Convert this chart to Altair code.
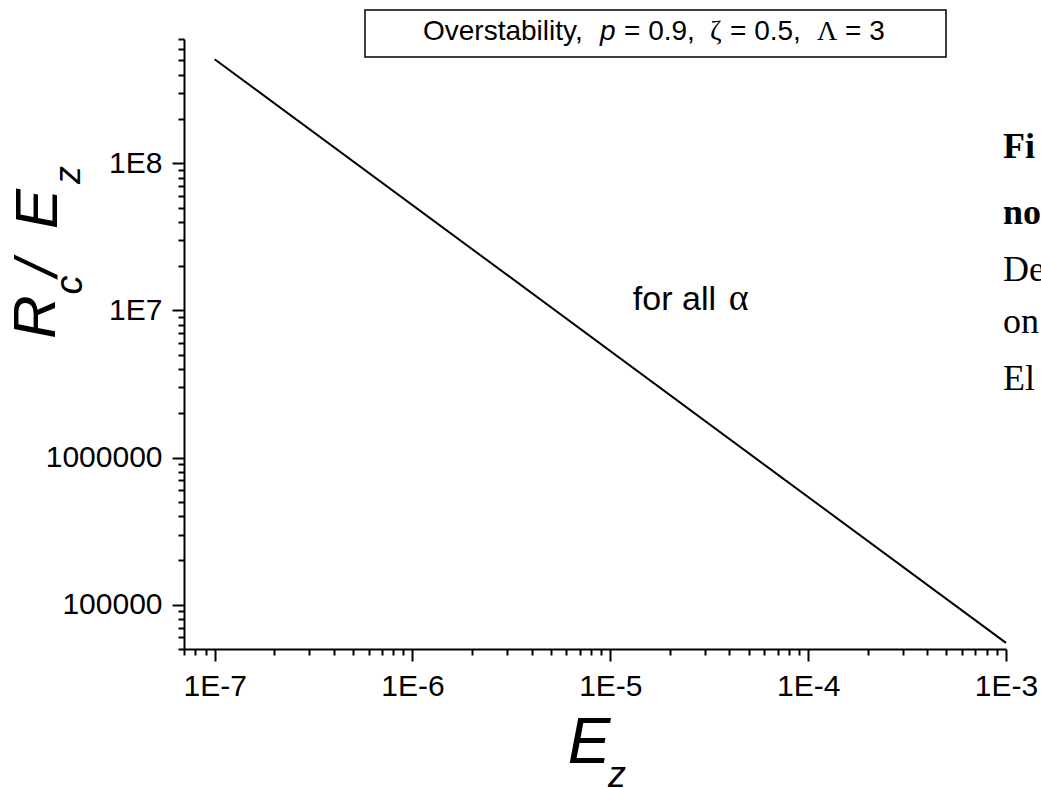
import altair as alt
import pandas as pd

# Critical Rayleigh number (scaled by E_z) against the vertical Ekman number
E_z = [1e-7, 1e-3]
Rc_over_Ez = [5.1e8, 5.5e4]

# Axis ranges and decade labels
x_domain = [7e-8, 1e-3]
y_domain = [5e4, 7e8]
x_major = [1e-7, 1e-6, 1e-5, 1e-4, 1e-3]
x_labels = ["1E-7", "1E-6", "1E-5", "1E-4", "1E-3"]
y_major = [1e5, 1e6, 1e7, 1e8]
y_labels = ["100000", "1000000", "1E7", "1E8"]

# Annotation text
note_text = "for all "
note_greek = "α"
note_at = [1.3e-5, 1e7]
box_parts = ["Overstability,", "p", "= 0.9,", "ζ", "= 0.5,", "Λ", "= 3"]
caption_lines = ["Fi", "no", "De", "on", "El"]


def log_ticks(lo, hi, e_lo, e_hi):
    vals = []
    for e in range(e_lo, e_hi + 1):
        for m in range(1, 10):
            v = float(f"{m}e{e}")
            if lo * 0.999 <= v <= hi * 1.001:
                vals.append(v)
    return vals


def label_expr(values, labels):
    expr = "''"
    for v, lab in reversed(list(zip(values, labels))):
        expr = f"(abs(datum.value - {v!r}) < {v!r} * 1e-6 ? '{lab}' : {expr})"
    return expr


def major_test(values):
    return " || ".join(f"abs(datum.value - {v!r}) < {v!r} * 1e-6" for v in values)


x_ticks = log_ticks(x_domain[0], x_domain[1], -8, -3)
y_ticks = log_ticks(y_domain[0], y_domain[1], 4, 8)

FONT = "Liberation Sans"
SERIF = "Liberation Serif"


def axis(values, majors, labels, pad):
    return alt.Axis(
        values=values,
        labelExpr=label_expr(majors, labels),
        tickSize={"condition": {"test": major_test(majors), "value": 12}, "value": 6},
        tickWidth=2,
        tickColor="black",
        domainWidth=2,
        domainColor="black",
        labelFont=FONT,
        labelFontSize=30,
        labelColor="black",
        labelPadding=pad,
        labelOverlap=False,
        labelFlush=False,
        grid=False,
        title=None,
    )


df = pd.DataFrame({"Ez": E_z, "R": Rc_over_Ez})

line = alt.Chart(df).mark_line(color="black", strokeWidth=2).encode(
    x=alt.X("Ez:Q", scale=alt.Scale(type="log", domain=x_domain, nice=False),
            axis=axis(x_ticks, x_major, x_labels, 10)),
    y=alt.Y("R:Q", scale=alt.Scale(type="log", domain=y_domain, nice=False),
            axis=axis(y_ticks, y_major, y_labels, 10)),
)

note_df = pd.DataFrame({"Ez": [note_at[0]], "R": [note_at[1]]})
note = alt.Chart(note_df).mark_text(
    text=note_text, align="left", baseline="alphabetic", font=FONT, fontSize=34, color="black"
).encode(x="Ez:Q", y="R:Q")
note_alpha = alt.Chart(note_df).mark_text(
    text=note_greek, align="left", baseline="alphabetic", font=SERIF, fontSize=38,
    color="black", dx=96
).encode(x="Ez:Q", y="R:Q")

one_row = alt.Data(values=[{"k": 0}])


def label(text, x, y, size, angle=0, align="left", italic=False, bold=False, font=FONT):
    kw = dict(text=text, align=align, baseline="alphabetic", font=font, fontSize=size,
              color="black", angle=angle)
    if italic:
        kw["fontStyle"] = "italic"
    if bold:
        kw["fontWeight"] = "bold"
    return alt.Chart(one_row).mark_text(**kw).encode(x=alt.value(x), y=alt.value(y))


box = alt.Chart(one_row).mark_rect(fill="white", stroke="black", strokeWidth=1.5).encode(
    x=alt.value(181), x2=alt.value(762), y=alt.value(-29), y2=alt.value(18)
)

# pieces of the boxed heading: (text, left x, italic, font)
box_layout = [
    (box_parts[0], 239, False, FONT),
    (box_parts[1], 416, True, FONT),
    (box_parts[2], 440, False, FONT),
    (box_parts[3], 526, False, SERIF),
    (box_parts[4], 546, False, FONT),
    (box_parts[5], 633, False, SERIF),
    (box_parts[6], 661, False, FONT),
]

layers = [line, note, note_alpha, box]
for t, x, it, f in box_layout:
    layers.append(label(t, x, 1, 28, italic=it, font=f))

layers += [
    # y-axis title R_c / E_z, rotated
    label("R", -129, 278, 60, angle=270, align="center", italic=True),
    label("c", -102, 246, 38, angle=270, align="center", italic=True),
    label("/", -127, 229, 60, angle=270, align="center", italic=True),
    label("E", -127, 170, 60, angle=270, align="center", italic=True),
    label("z", -104, 136, 36, angle=270, align="center", italic=True),
    # x-axis title E_z
    label("E", 405, 724, 64, align="center", italic=True),
    label("z", 433, 748, 36, align="center", italic=True),
]

baselines = [119, 185, 242, 294, 351]
for i, (t, b) in enumerate(zip(caption_lines, baselines)):
    layers.append(label(t, 819, b, 36, bold=(i < 2), font=SERIF))

chart = alt.layer(*layers).properties(
    width=822,
    height=610,
    autosize=alt.AutoSizeParams(type="none"),
    padding={"left": 184, "top": 39, "right": 35, "bottom": 139},
    background="white",
).configure_view(stroke=None)

chart.save("out.html", embed_options={"renderer": "svg", "actions": False})
